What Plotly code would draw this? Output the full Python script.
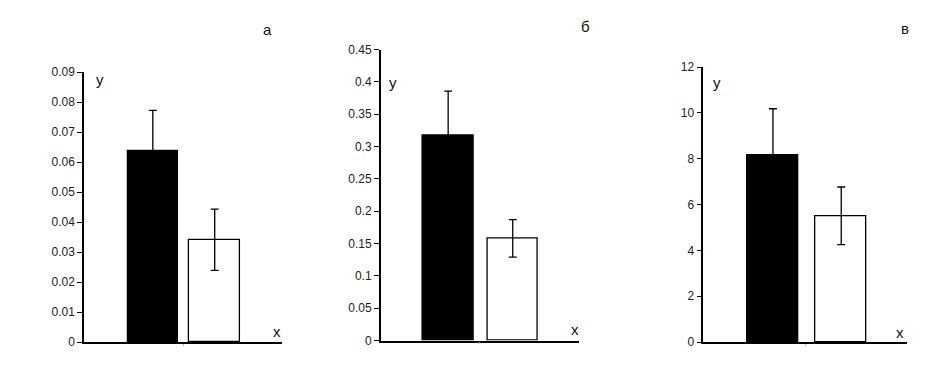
import plotly.graph_objects as go

# Data
groups = [0, 1]
panel_letters = ["а", "б", "в"]
values_a = [0.0636, 0.0341]
errors_a = [0.0136, 0.0102]
values_b = [0.3167, 0.158]
errors_b = [0.069, 0.029]
values_c = [8.165, 5.51]
errors_c = [2.02, 1.26]
ticks_a = [0, 0.01, 0.02, 0.03, 0.04, 0.05, 0.06, 0.07, 0.08, 0.09]
ticks_b = [0, 0.05, 0.1, 0.15, 0.2, 0.25, 0.3, 0.35, 0.4, 0.45]
ticks_c = [0, 2, 4, 6, 8, 10, 12]
labels_a = ["0", "0.01", "0.02", "0.03", "0.04", "0.05", "0.06", "0.07", "0.08", "0.09"]
labels_b = ["0", "0.05", "0.1", "0.15", "0.2", "0.25", "0.3", "0.35", "0.4", "0.45"]
labels_c = ["0", "2", "4", "6", "8", "10", "12"]
ranges = [[0, 0.09], [0, 0.45], [0, 12]]

bar_colors = ["black", "white"]
font = "Liberation Sans, Arial, sans-serif"

# page body has an 8px margin, so figure is drawn 8px smaller
W, H = 941, 360

fig = go.Figure()

panels = [
    dict(vals=values_a, errs=errors_a, ticks=ticks_a, ytxt=labels_a,
         xdom=[0.0808, 0.2912], ydom=[0.0547, 0.8352], xr=[-1.112, 2.088], bw=0.816),
    dict(vals=values_b, errs=errors_b, ticks=ticks_b, ytxt=labels_b,
         xdom=[0.3961, 0.6068], ydom=[0.0592, 0.9000], xr=[-1.044, 2.026], bw=0.78),
    dict(vals=values_c, errs=errors_c, ticks=ticks_c, ytxt=labels_c,
         xdom=[0.7389, 0.9551], ydom=[0.0547, 0.8492], xr=[-1.02, 1.96], bw=0.747),
]

for i, p in enumerate(panels):
    sfx = "" if i == 0 else str(i + 1)
    fig.add_trace(go.Bar(
        x=groups, y=p["vals"], width=p["bw"],
        marker=dict(color=bar_colors, line=dict(color="black", width=1.3)),
        error_y=dict(type="data", array=p["errs"], visible=True, color="black",
                     thickness=1.3, width=4),
        xaxis="x" + sfx, yaxis="y" + sfx, showlegend=False,
    ))
    fig.layout["xaxis" + sfx] = dict(
        domain=p["xdom"], range=p["xr"], anchor="y" + sfx,
        showgrid=False, zeroline=False, showline=True, linecolor="black", linewidth=1.5,
        tickvals=[0.5 * (p["xr"][0] + p["xr"][1])], ticktext=[""], ticks="outside",
        ticklen=2, tickcolor="#bbbbbb", fixedrange=True,
    )
    fig.layout["yaxis" + sfx] = dict(
        domain=p["ydom"], range=ranges[i], anchor="x" + sfx,
        showgrid=False, zeroline=False, showline=True, linecolor="black", linewidth=1.5,
        tickvals=p["ticks"], ticktext=p["ytxt"], ticks="outside", ticklen=5,
        tickcolor="black", tickwidth=1.3,
        tickfont=dict(family=font, size=12, color="#222222"),
    )

ann = [
    ("y", 0.0978, 0.8139), ("x", 0.2859, 0.0861), (panel_letters[0], 0.2763, 0.9592),
    ("y", 0.4088, 0.8056), ("x", 0.6026, 0.0917), (panel_letters[1], 0.6132, 0.9667),
    ("y", 0.7535, 0.8056), ("x", 0.9479, 0.0833), (panel_letters[2], 0.9532, 0.9611),
]
for t, x, y in ann:
    fig.add_annotation(text=t, x=x, y=y, xref="paper", yref="paper", showarrow=False,
                       font=dict(family=font, size=15, color="#111111"),
                       xanchor="center", yanchor="middle")

fig.update_layout(
    width=W, height=H, margin=dict(l=0, r=0, t=0, b=0),
    paper_bgcolor="white", plot_bgcolor="white", bargap=0,
)

fig.write_html("out.html")
